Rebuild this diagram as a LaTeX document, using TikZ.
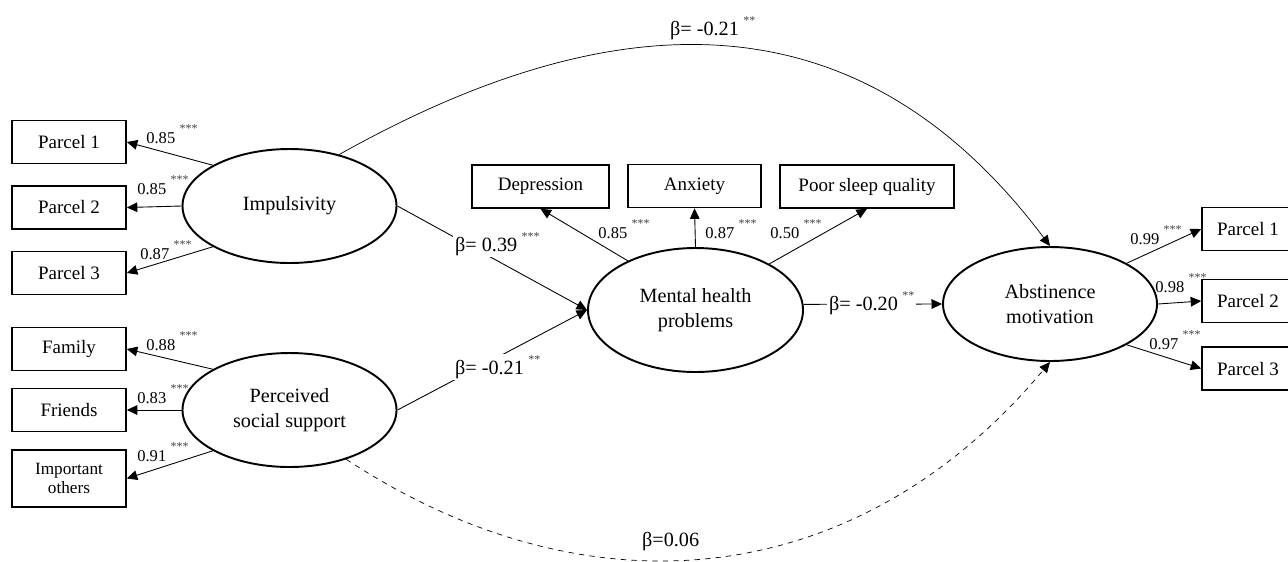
\documentclass[tikz,border=0pt]{standalone}
\usepackage{fontspec}
\setmainfont{Liberation Serif}
\usepackage{tikz}
\usetikzlibrary{shapes.geometric, arrows.meta}
\newcommand{\boxfont}{\fontsize{10.8}{12}\selectfont}
\newcommand{\latfont}{\fontsize{11.5}{14}\selectfont}
\newcommand{\loadfont}{\fontsize{9.4}{11}\selectfont}
\newcommand{\coeffont}{\fontsize{11.5}{13}\selectfont}
\newcommand{\sig}[1]{\hspace{2.5pt}\raisebox{5.8pt}{\fontsize{6.8}{7}\selectfont\textcolor{black!75}{#1}}}
\tikzstyle{obs} = [rectangle, minimum width=2.28cm, minimum height=0.86cm, text centered, draw=black, line width=0.9pt, font=\boxfont]
\tikzstyle{latent} = [ellipse, minimum width=4.28cm, minimum height=2.28cm, align=center, draw=black, line width=1.1pt, font=\latfont]
\tikzstyle{arrow} = [line width=0.5pt, ->, >={Triangle[length=6pt, width=5.5pt]}]
\tikzstyle{load} = [font=\loadfont, inner sep=0pt, anchor=base west]
\tikzstyle{coef} = [font=\coeffont, inner sep=1pt, anchor=base west]

\begin{document}
\begin{tikzpicture}
		\useasboundingbox (0,0) rectangle (25.76,-11.22);
		% latent variables
		\node (imp) [latent] at (5.79,-4.12) {Impulsivity};
		\node (pss) [latent] at (5.79,-8.20) {Perceived\\social support};
		\node (mhp) [latent, minimum width=4.30cm, minimum height=2.48cm] at (13.91,-6.20) {Mental health\\problems};
		\node (abst) [latent] at (21.00,-6.08) {Abstinence\\motivation};
		% indicators
		\node (impP1) [obs, node distance=4.41cm, left of=imp, yshift=1.28cm] {Parcel 1};
		\node (impP2) [obs, node distance=4.41cm, left of=imp, yshift=-0.03cm] {Parcel 2};
		\node (impP3) [obs, node distance=4.41cm, left of=imp, yshift=-1.34cm] {Parcel 3};
		\node (fam) [obs, node distance=4.41cm, left of=pss, yshift=1.22cm] {Family};
		\node (friends) [obs, node distance=4.41cm, left of=pss] {Friends};
		\node (others) [obs, node distance=4.41cm, left of=pss, yshift=-1.37cm, minimum height=1.14cm, align=center, font=\fontsize{9.8}{11.3}\selectfont] {Important\\others};
		\node (dep) [obs, node distance=2.47cm, above of=mhp, xshift=-3.10cm, minimum width=2.74cm] {Depression};
		\node (anx) [obs, node distance=2.48cm, above of=mhp, xshift=-0.02cm, minimum width=2.66cm] {Anxiety};
		\node (sleep) [obs, node distance=2.47cm, above of=mhp, xshift=3.43cm, minimum width=3.48cm] {Poor sleep quality};
		\node (absP1) [obs, node distance=3.96cm, right of=abst, yshift=1.50cm, minimum width=1.84cm] {Parcel 1};
		\node (absP2) [obs, node distance=3.96cm, right of=abst, yshift=0.06cm, minimum width=1.84cm] {Parcel 2};
		\node (absP3) [obs, node distance=3.96cm, right of=abst, yshift=-1.29cm, minimum width=1.84cm] {Parcel 3};
		% loadings
		\draw [arrow] (imp.152) -- (impP1.east);
		\draw [arrow] (imp.west) -- (impP2.east);
		\draw [arrow] (imp.208) -- (impP3.east);
		\draw [arrow] (pss.152) -- (fam.east);
		\draw [arrow] (pss.west) -- (friends.east);
		\draw [arrow] (pss.208) -- (others.east);
		\draw [arrow] (mhp.144) -- (dep.south);
		\draw [arrow] (mhp.north) -- (anx.south);
		\draw [arrow] (mhp.32) -- (sleep.south);
		\draw [arrow] (abst.28) -- (absP1.west);
		\draw [arrow] (abst.east) -- (absP2.west);
		\draw [arrow] (abst.332) -- (absP3.west);
		\node (lImp1) [load] at (2.92,-2.86) {0.85\sig{***}};
		\node (lImp2) [load] at (2.74,-3.88) {0.85\sig{***}};
		\node (lImp3) [load] at (2.80,-5.18) {0.87\sig{***}};
		\node (lFam) [load] at (2.92,-7.00) {0.88\sig{***}};
		\node (lFri) [load] at (2.74,-8.06) {0.83\sig{***}};
		\node (lOth) [load] at (2.74,-9.22) {0.91\sig{***}};
		\node (lDep) [load] at (11.96,-4.76) {0.85\sig{***}};
		\node (lAnx) [load] at (14.10,-4.76) {0.87\sig{***}};
		\node (lSlp) [load] at (15.40,-4.76) {0.50\sig{***}};
		\node (lAbs1) [load] at (22.60,-4.88) {0.99\sig{***}};
		\node (lAbs2) [load] at (23.10,-5.84) {0.98\sig{***}};
		\node (lAbs3) [load] at (22.98,-6.98) {0.97\sig{***}};
		% paths
		\draw [arrow] (imp.east) -- (mhp.west);
		\draw [arrow] (pss.east) -- (mhp.west);
		\draw [arrow] (mhp.3) -- (abst.west);
		\draw [arrow, line width=0.4pt] (imp.46) .. controls (12.68,0.22) and (17.38,-0.10) .. (abst.north);
		\draw [arrow, line width=0.4pt, dashed] (pss.319) .. controls (11.86,-12.42) and (17.21,-11.78) .. (abst.south);
		\node (bImp) [coef, fill=white] at (9.06,-5.02) {β= 0.39\sig{***}};
		\node (bPss) [coef, fill=white] at (9.06,-7.48) {β= -0.21\sig{**}};
		\node (bMhp) [coef, fill=white] at (16.54,-6.20) {β= -0.20\sig{**}};
		\node (bTop) [coef] at (13.36,-0.70) {β= -0.21\sig{**}};
		\node (bBot) [coef] at (12.80,-10.92) {β=0.06};
	\end{tikzpicture}
\end{document}
